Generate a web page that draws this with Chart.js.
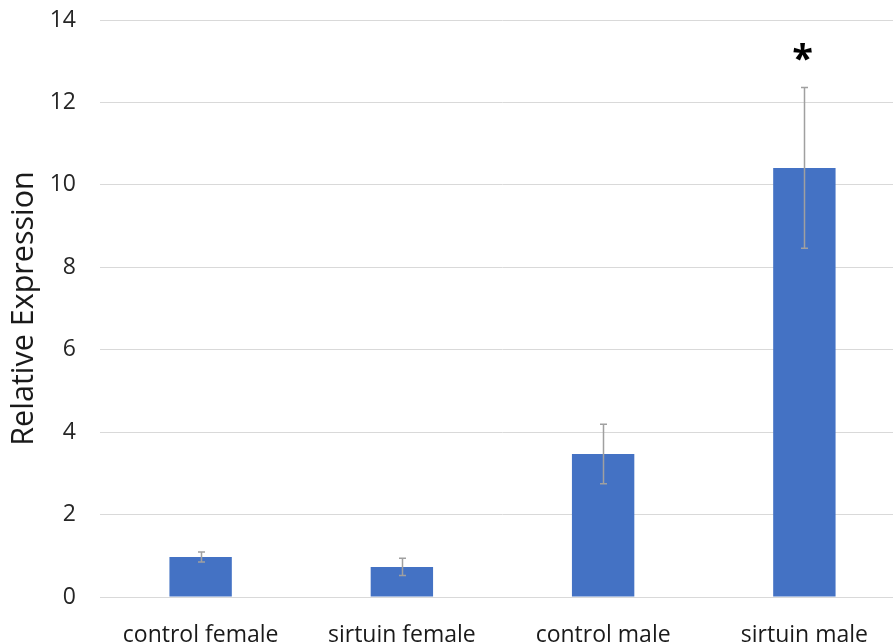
<!DOCTYPE html>
<html>
<head>
<meta charset="utf-8">
<script src="https://cdn.jsdelivr.net/npm/chart.js@4/dist/chart.umd.min.js"></script>
<style>
  html, body { margin: 0; padding: 0; background: #fff; overflow: hidden; }
  #wrap { width: 905px; height: 642px; }
</style>
</head>
<body>
<div id="wrap"><canvas id="chart" width="905" height="642"></canvas></div>
<script>
// chart data
const groups = ['control female', 'sirtuin female', 'control male', 'sirtuin male'];
const expression = [0.97, 0.73, 3.47, 10.41];
const errors = [0.12, 0.21, 0.72, 1.95];
const marks = ['', '', '', '*'];

// draws error bars and significance marks from the scales
const errorBarPlugin = {
  id: 'errorBars',
  afterDatasetsDraw(chart) {
    const ctx = chart.ctx;
    const y = chart.scales.y;
    const meta = chart.getDatasetMeta(0);
    ctx.save();
    meta.data.forEach((bar, i) => {
      const x = Math.round(bar.x) + 0.5;
      const top = y.getPixelForValue(expression[i] + errors[i]);
      const bottom = y.getPixelForValue(expression[i] - errors[i]);
      ctx.strokeStyle = '#a0a0a0';
      ctx.lineWidth = 1.5;
      ctx.beginPath();
      ctx.moveTo(x, top);
      ctx.lineTo(x, bottom);
      ctx.moveTo(x - 3.5, top);
      ctx.lineTo(x + 3.5, top);
      ctx.moveTo(x - 3.5, bottom);
      ctx.lineTo(x + 3.5, bottom);
      ctx.stroke();
      if (marks[i]) {
        ctx.fillStyle = '#000';
        ctx.font = 'bold 38px "Open Sans", sans-serif';
        ctx.textAlign = 'center';
        ctx.textBaseline = 'middle';
        ctx.fillText(marks[i], x - 2, top - 26);
      }
    });
    ctx.restore();
  }
};

new Chart(document.getElementById('chart'), {
  type: 'bar',
  data: {
    labels: groups,
    datasets: [{
      data: expression,
      backgroundColor: '#4472c4',
      borderWidth: 0,
      categoryPercentage: 1,
      barPercentage: 0.31
    }]
  },
  options: {
    responsive: false,
    animation: false,
    layout: { padding: { top: 20, right: 0, bottom: 0, left: 0 } },
    plugins: {
      legend: { display: false },
      tooltip: { enabled: false }
    },
    scales: {
      x: {
        grid: { display: false },
        border: { color: '#d9d9d9' },
        ticks: {
          color: '#1a1a1a',
          padding: 17,
          font: { family: '"Open Sans", sans-serif', size: 23 }
        },
        afterFit(scale) { scale.height = 45; }
      },
      y: {
        min: 0,
        max: 14,
        ticks: {
          stepSize: 2,
          color: '#262626',
          padding: 2,
          font: { family: '"Open Sans", sans-serif', size: 23 }
        },
        // invisible tick marks push the labels away from the plot
        grid: { color: '#d9d9d9', drawTicks: true, tickLength: 22, tickColor: 'rgba(0,0,0,0)' },
        border: { display: false },
        title: {
          display: true,
          text: 'Relative Expression',
          color: '#1a1a1a',
          font: { family: '"Open Sans", sans-serif', size: 30.5 },
          padding: { top: 6, bottom: 0 }
        },
        afterFit(scale) { scale.width = 100; }
      }
    }
  },
  plugins: [errorBarPlugin]
});
</script>
</body>
</html>
